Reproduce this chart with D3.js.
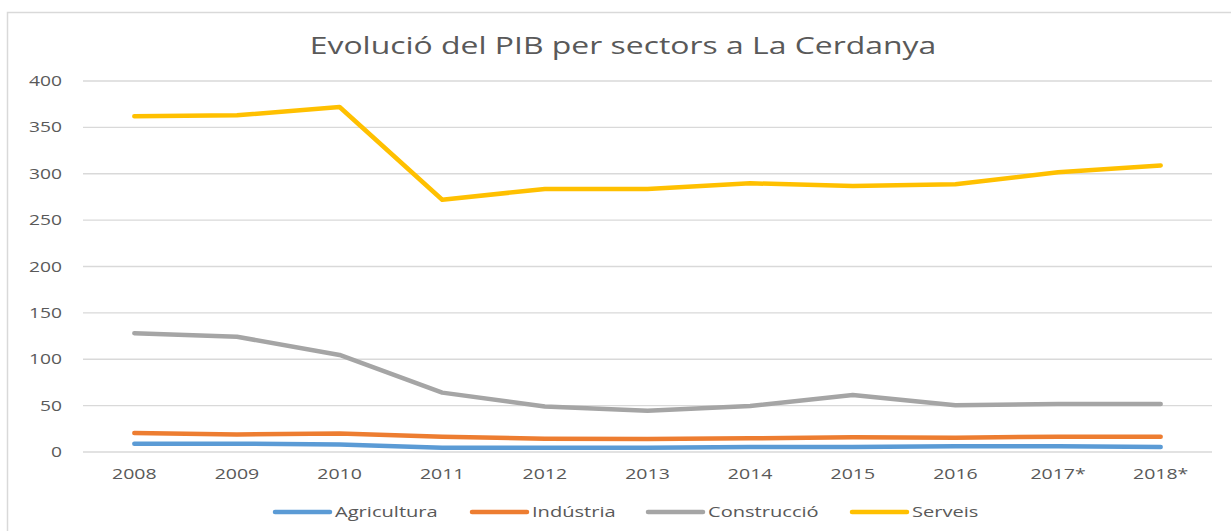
<!DOCTYPE html>
<html>
<head>
    <meta charset="utf-8">
    <script src="https://d3js.org/d3.v7.min.js"></script>
    <style>
        body { margin: 0; background: #fff; }
        text { font-family: 'Open Sans', sans-serif; fill: #595959; }
    </style>
</head>
<body>
    <div id="chart"></div>
<script>
    // data
    var years = ["2008", "2009", "2010", "2011", "2012", "2013", "2014", "2015", "2016", "2017*", "2018*"];
    var agricultura  = [9, 9, 8, 4.7, 4.7, 4.7, 5.4, 5.5, 6.1, 6.2, 5.4];
    var industria    = [20.5, 19, 20, 16.5, 14.4, 14, 14.7, 15.8, 15.4, 16.5, 16.5];
    var construccio  = [128, 124.3, 104.6, 64, 49, 44.6, 49.6, 61.5, 50.4, 51.8, 51.8];
    var serveis      = [362, 363, 372, 272, 283.6, 283.6, 289.7, 286.8, 288.6, 301.5, 309];
    var yTicks = [0, 50, 100, 150, 200, 250, 300, 350, 400];

    var series = [
        { name: "Agricultura", values: agricultura, color: "#5B9BD5" },
        { name: "Indústria", values: industria, color: "#ED7D31" },
        { name: "Construcció", values: construccio, color: "#A5A5A5" },
        { name: "Serveis", values: serveis, color: "#FFC000" }
    ];

    var W = 1231, H = 531;
    var margin = { top: 81, right: 19, bottom: 79, left: 83 },
        width = W - margin.left - margin.right,
        height = H - margin.top - margin.bottom;
    var stretch = 1.3; // the reference text is drawn wide

    var root = d3.select("#chart").append("svg")
        .attr("width", W).attr("height", H);

    // chart border (only top and left edges are in view)
    root.append("path")
        .attr("d", "M7.5,531 V12.5 H1231")
        .attr("fill", "none")
        .attr("stroke", "#d9d9d9")
        .attr("stroke-width", 1.5);

    root.append("text")
        .attr("transform", "translate(623,54) scale(1.33,1)")
        .attr("text-anchor", "middle")
        .style("font-size", "24px")
        .text("Evolució del PIB per sectors a La Cerdanya");

    var svg = root.append("g")
        .attr("transform", "translate(" + margin.left + "," + margin.top + ")");

    var x = d3.scaleBand().domain(years).range([0, width]);
    var y = d3.scaleLinear().domain([0, 400]).range([height, 0]);

    // gridlines
    svg.selectAll(".grid")
        .data(yTicks).enter()
        .append("line")
        .attr("x1", 0).attr("x2", width)
        .attr("y1", function (d) { return y(d); })
        .attr("y2", function (d) { return y(d); })
        .attr("stroke", "#d9d9d9")
        .attr("stroke-width", 1.3);

    // y labels
    svg.selectAll(".ylab")
        .data(yTicks).enter()
        .append("text")
        .attr("transform", function (d) { return "translate(-21," + (y(d) + 5) + ") scale(" + stretch + ",1)"; })
        .attr("text-anchor", "end")
        .style("font-size", "14.8px")
        .text(function (d) { return d; });

    // x labels
    svg.selectAll(".xlab")
        .data(years).enter()
        .append("text")
        .attr("transform", function (d) { return "translate(" + (x(d) + x.bandwidth() / 2) + "," + (height + 27) + ") scale(" + stretch + ",1)"; })
        .attr("text-anchor", "middle")
        .style("font-size", "15px")
        .text(function (d) { return d; });

    var line = d3.line()
        .x(function (d, i) { return x(years[i]) + x.bandwidth() / 2; })
        .y(function (d) { return y(d); });

    svg.selectAll(".series")
        .data(series).enter()
        .append("path")
        .attr("d", function (d) { return line(d.values); })
        .attr("fill", "none")
        .attr("stroke", function (d) { return d.color; })
        .attr("stroke-width", 4.5)
        .attr("stroke-linejoin", "round")
        .attr("stroke-linecap", "round");

    // legend
    var legendX = [275, 472, 648, 852];
    var leg = root.selectAll(".leg")
        .data(series).enter()
        .append("g")
        .attr("transform", function (d, i) { return "translate(" + legendX[i] + ",512)"; });
    leg.append("line")
        .attr("x1", 0).attr("x2", 55)
        .attr("stroke", function (d) { return d.color; })
        .attr("stroke-width", 4.5)
        .attr("stroke-linecap", "round");
    leg.append("text")
        .attr("transform", "translate(60,5) scale(1.34,1)")
        .style("font-size", "15px")
        .text(function (d) { return d.name; });
</script>
</body>
</html>
